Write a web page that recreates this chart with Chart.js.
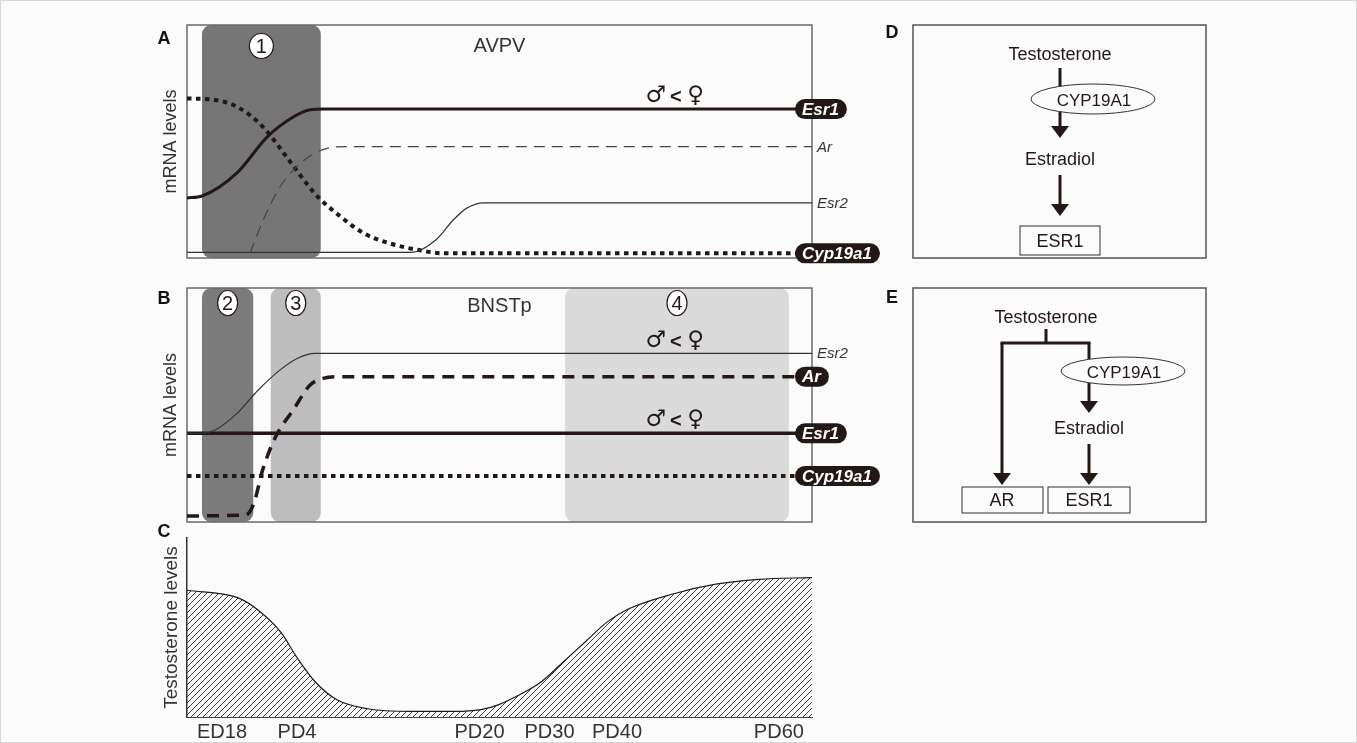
<!DOCTYPE html>
<html>
<head>
<meta charset="utf-8">
<script src="https://cdn.jsdelivr.net/npm/chart.js@4.4.1/dist/chart.umd.min.js"></script>
<style>
  html, body { margin: 0; padding: 0; background: #fbfbfb; }
  body { width: 1357px; height: 743px; position: relative; overflow: hidden; }
  .panel { position: absolute; }
  #frame { position: absolute; left: 0; top: 0; width: 1355px; height: 741px; border: 1px solid #d6d6d6; }
  svg { position: absolute; left: 0; top: 0; font-family: "Liberation Sans", Arial, sans-serif; }
</style>
</head>
<body>
<div id="frame"></div>
<div class="panel" style="left:140px;top:15px;width:750px;height:255px"><canvas id="avpv"></canvas></div>
<div class="panel" style="left:140px;top:280px;width:750px;height:250px"><canvas id="bnst"></canvas></div>
<div class="panel" style="left:140px;top:528px;width:750px;height:215px"><canvas id="testo"></canvas></div>

<svg width="1357" height="743">
  <g font-weight="bold" font-size="18" fill="#111" text-anchor="middle" dominant-baseline="central">
    <text x="164" y="38">A</text>
    <text x="164" y="298">B</text>
    <text x="164" y="531">C</text>
    <text x="892" y="32">D</text>
    <text x="892" y="297">E</text>
  </g>

  <!-- D -->
  <rect x="913" y="25" width="293" height="233" fill="none" stroke="#555" stroke-width="1.5"/>
  <g fill="#231815" font-size="18" text-anchor="middle" dominant-baseline="central">
    <text x="1060" y="54">Testosterone</text>
    <text x="1060" y="159">Estradiol</text>
    <text x="1060" y="241">ESR1</text>
  </g>
  <g stroke="#231815" stroke-width="3">
    <line x1="1060" y1="68" x2="1060" y2="127"/>
    <line x1="1060" y1="175" x2="1060" y2="205"/>
  </g>
  <g fill="#231815">
    <polygon points="1051,126 1069,126 1060,138"/>
    <polygon points="1051,204 1069,204 1060,216"/>
  </g>
  <ellipse cx="1093" cy="99" rx="62" ry="15" fill="#fbfbfb" stroke="#333" stroke-width="1"/>
  <text x="1094" y="100" font-size="17" fill="#231815" text-anchor="middle" dominant-baseline="central">CYP19A1</text>
  <rect x="1020" y="226" width="80" height="29" fill="none" stroke="#333" stroke-width="1"/>

  <!-- E -->
  <rect x="913" y="288" width="293" height="234" fill="none" stroke="#555" stroke-width="1.5"/>
  <g stroke="#231815" stroke-width="3" fill="none">
    <line x1="1046" y1="329" x2="1046" y2="343"/>
    <line x1="1000.5" y1="343" x2="1090.5" y2="343"/>
    <line x1="1002" y1="343" x2="1002" y2="474"/>
    <line x1="1089" y1="343" x2="1089" y2="402"/>
    <line x1="1089" y1="444" x2="1089" y2="474"/>
  </g>
  <g fill="#231815">
    <polygon points="993,473 1011,473 1002,485"/>
    <polygon points="1080,401 1098,401 1089,413"/>
    <polygon points="1080,473 1098,473 1089,485"/>
  </g>
  <ellipse cx="1123" cy="371" rx="62" ry="14" fill="#fbfbfb" stroke="#333" stroke-width="1"/>
  <g fill="#231815" font-size="18" text-anchor="middle" dominant-baseline="central">
    <text x="1046" y="317">Testosterone</text>
    <text x="1124" y="372" font-size="17">CYP19A1</text>
    <text x="1089" y="428">Estradiol</text>
    <text x="1002" y="500">AR</text>
    <text x="1089" y="500">ESR1</text>
  </g>
  <rect x="962" y="487" width="81" height="26" fill="none" stroke="#333" stroke-width="1"/>
  <rect x="1048" y="487" width="82" height="26" fill="none" stroke="#333" stroke-width="1"/>
</svg>

<script>
// x runs 0..100 along the schematic age axis, y is relative level 0..100
const tickPos = [5.6, 17.6, 46.8, 58.0, 68.8, 94.7];
const tickLabels = ["ED18", "PD4", "PD20", "PD30", "PD40", "PD60"];

// A: AVPV
const avpvEsr1 = [[0, 25.8], [2.4, 26.6], [8, 36.5], [12.8, 51.9], [17, 60.5], [19.7, 63.6], [21.8, 63.9], [100, 63.9]];
const avpvAr = [[10.1, 2.0], [12.2, 16.3], [14.9, 30.6], [17.6, 39.3], [20.5, 45.1], [23.2, 47.5], [25.5, 47.8], [100, 47.8]];
const avpvEsr2 = [[0, 2.4], [36, 2.4], [39.8, 7.7], [42.6, 16.3], [44.7, 21.3], [47.5, 23.7], [100, 23.7]];
const avpvCyp = [[0, 68.5], [4.5, 67.8], [8, 64.9], [12.1, 56.4], [16.3, 42.1], [20.4, 27.8], [24.6, 17.7],
                 [28.3, 10.6], [32.4, 6.3], [37.1, 3.4], [41.2, 2.0], [100, 2.0]];
const avpvWindows = [[2.4, 21.4]];
const avpvWindowLabels = ["1"];

// B: BNSTp
const bnstEsr2 = [[0, 37.9], [2.4, 37.9], [4.5, 39.3], [8, 46.4], [11.4, 56.4], [14.9, 65.0], [17.7, 70.0], [20.4, 72.1], [100, 72.1]];
const bnstAr = [[0, 2.6], [9.4, 3.0], [10.7, 8.0], [12.1, 22.2], [14.2, 36.5], [17.0, 47.9], [19.7, 58.5], [21.8, 61.4], [23.9, 62.1], [100, 62.1]];
const bnstEsr1 = [[0, 37.9], [100, 37.9]];
const bnstCyp = [[0, 19.7], [100, 19.7]];
const bnstWindows = [[2.4, 10.6], [13.4, 21.4], [60.5, 96.3]];
const bnstWindowLabels = ["2", "3", "4"];

// C: testosterone
const testoLevel = [[0, 70.8], [8, 66.8], [11.5, 59.4], [15, 47.4], [17.7, 32.7], [20.5, 19.7], [24, 9.6], [28.9, 4.6],
                    [35.8, 3.1], [42.8, 3.1], [47, 4.1], [49.8, 6.8], [53.2, 12.4], [56.7, 19.7], [60.2, 30.8],
                    [63.7, 41.9], [67.2, 53.0], [70.6, 60.3], [77.6, 68.6], [84.6, 74.2], [91.5, 76.9], [100, 77.9]];

const FONT = '"Liberation Sans", Arial, sans-serif';
const INK = '#231815';
Chart.defaults.font.family = FONT;
Chart.defaults.color = '#333';

const pts = arr => arr.map(p => ({ x: p[0], y: p[1] }));

function curve(data, width, dash, color, extra) {
  return Object.assign({
    data: pts(data),
    borderColor: color || INK,
    borderWidth: width,
    borderDash: dash || [],
    borderCapStyle: 'butt',
    pointRadius: 0,
    fill: false,
    cubicInterpolationMode: 'monotone'
  }, extra || {});
}

function roundRect(ctx, x, y, w, h, r) {
  ctx.beginPath();
  ctx.moveTo(x + r, y);
  ctx.arcTo(x + w, y, x + w, y + h, r);
  ctx.arcTo(x + w, y + h, x, y + h, r);
  ctx.arcTo(x, y + h, x, y, r);
  ctx.arcTo(x, y, x + w, y, r);
  ctx.closePath();
}

function sexDiff(ctx, cx, cy) {
  ctx.fillStyle = INK;
  ctx.textAlign = 'center';
  ctx.textBaseline = 'middle';
  ctx.font = '23px "DejaVu Sans", sans-serif';
  ctx.fillText('\u2642', cx - 20, cy);
  ctx.fillText('\u2640', cx + 20, cy);
  ctx.font = 'bold 20px ' + FONT;
  ctx.fillText('<', cx, cy + 1);
}

const schematic = {
  id: 'schematic',
  beforeDatasetsDraw(chart, args, o) {
    const { ctx, chartArea: a, scales: { x } } = chart;
    ctx.save();
    o.windows.forEach((w, i) => {
      const x0 = x.getPixelForValue(w[0]), x1 = x.getPixelForValue(w[1]);
      ctx.fillStyle = o.windowColors[i];
      roundRect(ctx, x0, a.top, x1 - x0, a.bottom - a.top, 9);
      ctx.fill();
    });
    ctx.strokeStyle = '#6a6a6a';
    ctx.lineWidth = 1.5;
    ctx.strokeRect(a.left, a.top, a.right - a.left, a.bottom - a.top);
    o.windows.forEach((w, i) => {
      const cx = (x.getPixelForValue(w[0]) + x.getPixelForValue(w[1])) / 2;
      const cy = a.top + o.numberOffset;
      ctx.beginPath();
      ctx.ellipse(cx, cy, o.numberRx[i], 12.5, 0, 0, Math.PI * 2);
      ctx.fillStyle = '#fff';
      ctx.fill();
      ctx.strokeStyle = INK;
      ctx.lineWidth = 1.2;
      ctx.stroke();
      ctx.fillStyle = INK;
      ctx.font = '20px ' + FONT;
      ctx.textAlign = 'center';
      ctx.textBaseline = 'middle';
      ctx.fillText(o.windowLabels[i], cx, cy + 1);
    });
    ctx.fillStyle = '#333';
    ctx.font = '20px ' + FONT;
    ctx.textAlign = 'center';
    ctx.textBaseline = 'middle';
    ctx.fillText(o.region, (a.left + a.right) / 2, a.top + o.regionOffset);
    ctx.restore();
  },
  afterDatasetsDraw(chart, args, o) {
    const { ctx, chartArea: a, scales: { x, y } } = chart;
    ctx.save();
    chart.data.datasets.forEach(ds => {
      const last = ds.data[ds.data.length - 1];
      const py = y.getPixelForValue(last.y);
      if (ds.sexDiff) sexDiff(ctx, x.getPixelForValue(o.sexDiffX), py - ds.sexDiff);
      if (ds.pill) {
        ctx.font = 'italic bold 17px ' + FONT;
        const w = ctx.measureText(ds.label).width + 15;
        ctx.fillStyle = INK;
        roundRect(ctx, a.right - 17, py - 10, w, 20, 10);
        ctx.fill();
        ctx.fillStyle = '#fff';
        ctx.textAlign = 'left';
        ctx.textBaseline = 'middle';
        ctx.fillText(ds.label, a.right - 10, py + 1);
      } else {
        ctx.font = 'italic 15px ' + FONT;
        ctx.fillStyle = '#333';
        ctx.textAlign = 'left';
        ctx.textBaseline = 'middle';
        ctx.fillText(ds.label, a.right + 5, py + 1);
      }
    });
    ctx.restore();
  }
};

function yTitle(text, showBorder, size, padTop) {
  return {
    min: 0, max: 100,
    ticks: { display: false },
    grid: { display: false, drawTicks: false },
    border: { display: showBorder, color: '#333', width: 1.5 },
    title: { display: true, text: text, font: { size: size }, color: '#333', padding: { top: padTop, bottom: 0 } },
    afterFit: s => { s.width = 47; }
  };
}

function schematicChart(id, datasets, pad, cfg) {
  return new Chart(document.getElementById(id), {
    type: 'line',
    data: { datasets: datasets },
    plugins: [schematic],
    options: {
      animation: false,
      responsive: true,
      maintainAspectRatio: false,
      layout: { padding: pad },
      scales: {
        x: { type: 'linear', min: 0, max: 100, display: false },
        y: yTitle('mRNA levels', false, 18, 20)
      },
      plugins: { legend: { display: false }, tooltip: { enabled: false }, schematic: cfg }
    }
  });
}

schematicChart('avpv', [
  curve(avpvAr, 1.2, [11, 7], '#444', { label: 'Ar' }),
  curve(avpvEsr2, 1.2, [], '#333', { label: 'Esr2' }),
  curve(avpvCyp, 4, [4.5, 4.5], INK, { label: 'Cyp19a1', pill: true }),
  curve(avpvEsr1, 3, [], INK, { label: 'Esr1', pill: true, sexDiff: 13 })
], { left: 0, right: 78, top: 10, bottom: 12 }, {
  windows: avpvWindows, windowLabels: avpvWindowLabels, windowColors: ['#767676'],
  numberRx: [12], numberOffset: 21, region: 'AVPV', regionOffset: 21, sexDiffX: 78.2
});

schematicChart('bnst', [
  curve(bnstEsr2, 1.2, [], '#333', { label: 'Esr2', sexDiff: 12 }),
  curve(bnstCyp, 4, [4.5, 4.5], INK, { label: 'Cyp19a1', pill: true }),
  curve(bnstEsr1, 3.5, [], INK, { label: 'Esr1', pill: true, sexDiff: 13 }),
  curve(bnstAr, 3.5, [12, 8], INK, { label: 'Ar', pill: true })
], { left: 0, right: 78, top: 8, bottom: 8 }, {
  windows: bnstWindows, windowLabels: bnstWindowLabels, windowColors: ['#7b7b7b', '#bdbdbd', '#dadada'],
  numberRx: [10, 10, 10], numberOffset: 15, region: 'BNSTp', regionOffset: 18, sexDiffX: 78.2
});

function hatch(ctx) {
  const c = document.createElement('canvas');
  c.width = 6; c.height = 6;
  const g = c.getContext('2d');
  g.strokeStyle = '#2a2a2a';
  g.lineWidth = 0.9;
  g.beginPath();
  g.moveTo(0, 6); g.lineTo(6, 0);
  g.moveTo(-1, 1); g.lineTo(1, -1);
  g.moveTo(5, 7); g.lineTo(7, 5);
  g.stroke();
  return ctx.createPattern(c, 'repeat');
}

const testoCanvas = document.getElementById('testo');
new Chart(testoCanvas, {
  type: 'line',
  data: {
    datasets: [curve(testoLevel, 1.2, [], INK, {
      label: 'Testosterone', fill: 'origin', backgroundColor: hatch(testoCanvas.getContext('2d'))
    })]
  },
  options: {
    animation: false,
    responsive: true,
    maintainAspectRatio: false,
    layout: { padding: { left: 0, right: 78, top: 10, bottom: 0 } },
    scales: {
      x: {
        type: 'linear', min: 0, max: 100,
        grid: { display: false, drawTicks: false },
        border: { display: true, color: '#444', width: 1 },
        afterBuildTicks: s => { s.ticks = tickPos.map(v => ({ value: v })); },
        afterFit: s => { s.height = 26; },
        ticks: { autoSkip: false, maxRotation: 0, padding: 3, font: { size: 20 }, color: '#333',
                 callback: (v, i) => tickLabels[i] }
      },
      y: yTitle('Testosterone levels', true, 19, 20)
    },
    plugins: { legend: { display: false }, tooltip: { enabled: false } }
  }
});
</script>
</body>
</html>
